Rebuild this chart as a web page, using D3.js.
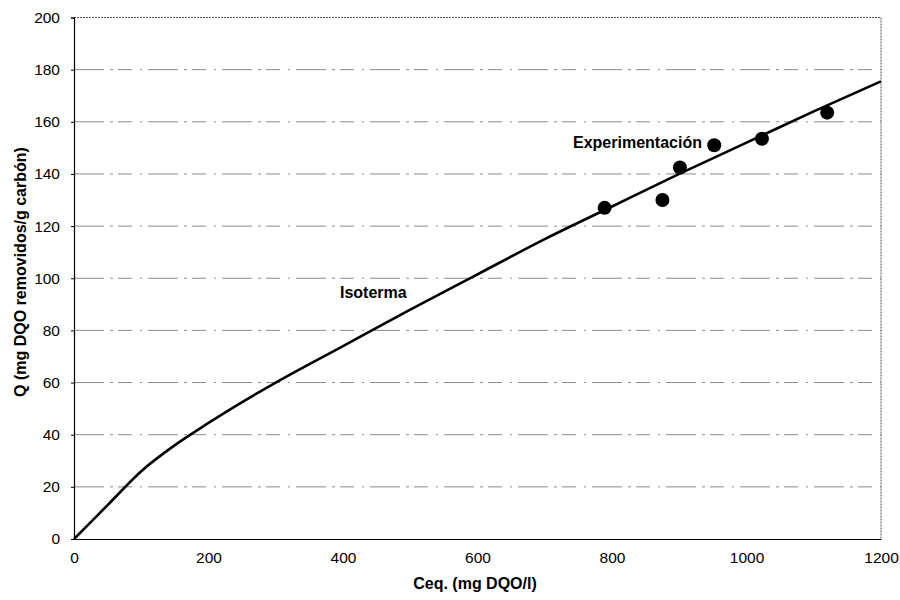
<!DOCTYPE html>
<html>
<head>
<meta charset="utf-8">
<script src="https://cdn.jsdelivr.net/npm/d3@7"></script>
<style>
  body { margin: 0; background: #fff; }
  svg { font-family: "Liberation Sans", Arial, sans-serif; }
</style>
</head>
<body>
<svg id="chart" width="900" height="600"></svg>
<script>
// Isotherm curve (Ceq, Q) readings
const isoC = [0, 50, 100, 150, 200, 250, 300, 400, 500, 600, 700, 800, 900, 1000, 1100, 1200];
const isoQ = [0, 13, 26, 36, 44.5, 52.5, 60, 74, 88, 101.5, 115, 127.5, 140, 152, 164, 175.5];

// Experimental points
const expC = [789, 875, 901, 952, 1023, 1120];
const expQ = [127, 130, 142.5, 151, 153.5, 163.5];

// Axis ticks
const xTicks = [0, 200, 400, 600, 800, 1000, 1200];
const yTicks = [0, 20, 40, 60, 80, 100, 120, 140, 160, 180, 200];

const svg = d3.select("#chart");
const plot = { left: 74, right: 881, top: 17.5, bottom: 539 };

const x = d3.scaleLinear().domain([0, 1200]).range([plot.left, plot.right]);
const y = d3.scaleLinear().domain([0, 200]).range([plot.bottom, plot.top]);

// horizontal grid lines
svg.append("g").selectAll("line")
  .data(yTicks.filter(d => d > 0 && d < 200))
  .join("line")
  .attr("x1", plot.left).attr("x2", plot.right)
  .attr("y1", d => y(d)).attr("y2", d => y(d))
  .attr("stroke", "#8a8a8a").attr("stroke-width", 1)
  .attr("stroke-dasharray", "30,6,3,5,14,8,2,6");

// dotted frame on top and right
svg.append("path")
  .attr("d", `M${plot.left},${plot.top}H${plot.right}V${plot.bottom}`)
  .attr("fill", "none").attr("stroke", "#555")
  .attr("stroke-width", 1).attr("stroke-dasharray", "2,1");

// axes
const fmt = d3.format("d");
const yAxis = d3.axisLeft(y).tickValues(yTicks).tickFormat(fmt).tickSize(3).tickPadding(11);
const xAxis = d3.axisBottom(x).tickValues(xTicks).tickFormat(fmt).tickSize(0).tickPadding(13);

const gy = svg.append("g").attr("transform", `translate(${plot.left},0)`).call(yAxis);
const gx = svg.append("g").attr("transform", `translate(0,${plot.bottom})`).call(xAxis);
[gx, gy].forEach(g => {
  g.select(".domain").attr("stroke", "#000").attr("stroke-width", 1.2);
  g.selectAll("text").attr("font-size", 15.5).attr("fill", "#000")
    .attr("font-family", "\"Liberation Sans\", Arial, sans-serif");
  g.selectAll(".tick line").attr("stroke", "#000");
});

// isotherm
const line = d3.line()
  .x((d, i) => x(isoC[i]))
  .y((d, i) => y(isoQ[i]))
  .curve(d3.curveMonotoneX);
svg.append("path")
  .datum(isoQ)
  .attr("d", line)
  .attr("fill", "none").attr("stroke", "#000").attr("stroke-width", 2.6);

// experimental points
svg.append("g").selectAll("circle")
  .data(expC)
  .join("circle")
  .attr("cx", d => x(d))
  .attr("cy", (d, i) => y(expQ[i]))
  .attr("r", 7)
  .attr("fill", "#000");

// series labels
svg.append("text").attr("x", 573).attr("y", 148)
  .attr("font-size", 16).attr("font-weight", "bold").text("Experimentación");
svg.append("text").attr("x", 340).attr("y", 298)
  .attr("font-size", 16).attr("font-weight", "bold").text("Isoterma");

// axis titles
svg.append("text").attr("x", 475).attr("y", 589)
  .attr("text-anchor", "middle").attr("font-size", 16).attr("font-weight", "bold")
  .text("Ceq. (mg DQO/l)");
svg.append("text")
  .attr("transform", `translate(26,272) rotate(-90)`)
  .attr("text-anchor", "middle").attr("font-size", 16).attr("font-weight", "bold")
  .text("Q (mg DQO removidos/g carbón)");
</script>
</body>
</html>
